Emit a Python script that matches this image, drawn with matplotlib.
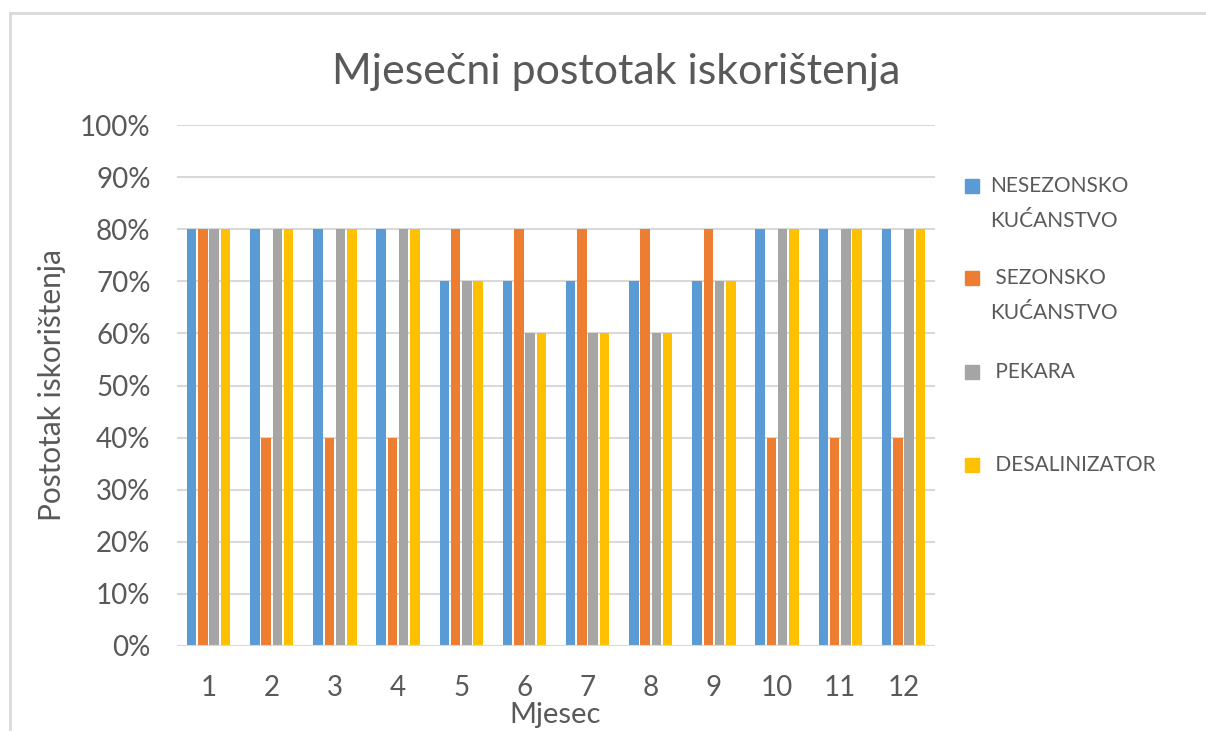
import matplotlib.pyplot as plt
import matplotlib.patches as mpatches
from matplotlib.lines import Line2D
from matplotlib.ticker import PercentFormatter
import numpy as np

plt.rcParams['font.family'] = ['Lato', 'DejaVu Sans']

# Data
months = [1, 2, 3, 4, 5, 6, 7, 8, 9, 10, 11, 12]
nesezonsko = [80, 80, 80, 80, 70, 70, 70, 70, 70, 80, 80, 80]
sezonsko = [80, 40, 40, 40, 80, 80, 80, 80, 80, 40, 40, 40]
pekara = [80, 80, 80, 80, 70, 60, 60, 60, 70, 80, 80, 80]
desalinizator = [80, 80, 80, 80, 70, 60, 60, 60, 70, 80, 80, 80]

series = [
    (["NESEZONSKO", "KUĆANSTVO"], nesezonsko, '#5b9bd5'),
    ([" SEZONSKO", "KUĆANSTVO"], sezonsko, '#ed7d31'),
    ([" PEKARA"], pekara, '#a5a5a5'),
    ([" DESALINIZATOR"], desalinizator, '#ffc000'),
]

text_col = '#595959'
grid_col = '#d9d9d9'
W, H = 1206, 731

fig = plt.figure(figsize=(12.06, 7.31), dpi=100)
ax = fig.add_axes([177 / W, 1 - 646 / H, (935 - 177) / W, (646 - 125) / H])

x = np.arange(len(months))
step = 0.178
for i, (name, vals, col) in enumerate(series):
    ax.bar(x + (i - 1.5) * step, vals, width=0.15, color=col, zorder=3)

ax.set_xlim(-0.5, len(months) - 0.5)
ax.set_ylim(0, 100)
ax.set_yticks(range(0, 101, 10))
ax.yaxis.set_major_formatter(PercentFormatter(decimals=0))
ax.set_xticks(x)
ax.set_xticklabels([str(m) for m in months])
ax.grid(axis='y', color=grid_col, linewidth=1.5, zorder=0)
for s in ax.spines.values():
    s.set_visible(False)
ax.axhline(0, color=grid_col, linewidth=1.5, zorder=4)
ax.tick_params(length=0, labelsize=20, colors=text_col)
ax.tick_params(axis='y', pad=19)
ax.tick_params(axis='x', pad=21)

fig.text(555 / W, 1 - 715 / H, 'Mjesec', fontsize=21, color=text_col,
         ha='center', va='center')
fig.text(52 / W, 1 - 385 / H, 'Postotak iskorištenja', fontsize=21.5,
         color=text_col, ha='center', va='center', rotation=90)

fig.text(616 / W, 1 - 72 / H, 'Mjesečni postotak iskorištenja', fontsize=31,
         color=text_col, ha='center', va='center')

# legend drawn by hand to match the spacing of the original
leg_y = [186, 278, 372, 465]
sq = 14
for (lines, vals, col), yy in zip(series, leg_y):
    fig.patches.append(mpatches.Rectangle((965 / W, 1 - (yy + sq / 2) / H), sq / W, sq / H,
                                          transform=fig.transFigure, color=col))
    for k, line in enumerate(lines):
        fig.text(990 / W, 1 - (yy + 35 * k) / H, line, fontsize=15, color=text_col,
                 ha='left', va='center')

# chart frame (screenshot crop)
fig.lines.append(Line2D([10 / W, 10 / W], [0.0, 1 - 13 / H], transform=fig.transFigure,
                        color=grid_col, linewidth=2))
fig.lines.append(Line2D([10 / W, 1.0], [1 - 13 / H, 1 - 13 / H], transform=fig.transFigure,
                        color=grid_col, linewidth=2))

fig.savefig('out.png', dpi=100)
